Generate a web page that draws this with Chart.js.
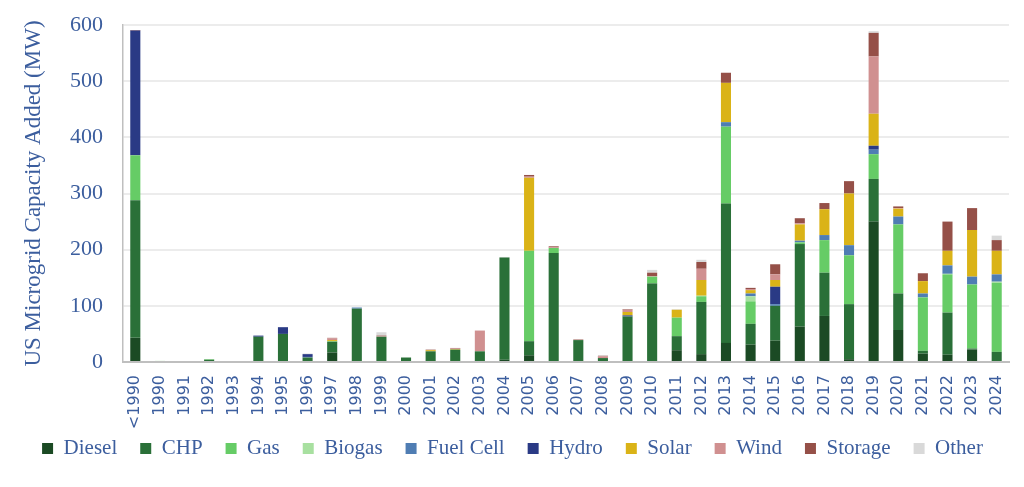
<!DOCTYPE html>
<html>
<head>
<meta charset="utf-8">
<script src="https://cdn.jsdelivr.net/npm/chart.js@4"></script>
<style>
    body { margin: 0; background: #fff; }
    #wrap { width: 1024px; height: 487px; }
</style>
</head>
<body>
<div id="wrap"><canvas id="microgridChart"></canvas></div>
<script>
// Data
const years = ['<1990', '1990', '1991', '1992', '1993', '1994', '1995', '1996', '1997', '1998',
    '1999', '2000', '2001', '2002', '2003', '2004', '2005', '2006', '2007', '2008',
    '2009', '2010', '2011', '2012', '2013', '2014', '2015', '2016', '2017', '2018',
    '2019', '2020', '2021', '2022', '2023', '2024'];

const diesel   = [43, 0, 0, 0, 0, 0, 0, 0, 17, 0, 0, 0, 0, 0, 0, 4, 12, 0, 0, 0, 0, 0, 21, 14, 34, 31, 38, 63, 82, 5, 250, 57, 15, 13, 22, 0];
const chp      = [245, 0, 0, 4, 0, 45, 50, 8, 19, 95, 45, 8, 19, 22, 19, 182, 25, 194, 39, 7, 81, 140, 25, 93, 248, 37, 62, 147, 77, 98, 76, 65, 5, 75, 2, 18];
const gas      = [80, 0, 0, 1, 0, 0, 0, 0, 1, 0, 0, 0, 0, 0, 0, 0, 161, 9, 0, 0, 0, 12, 33, 10, 137, 40, 0, 3, 58, 87, 44, 123, 95, 68, 114, 123];
const biogas   = [0, 2, 0, 0, 0, 0, 0, 0, 0, 0, 0, 0, 0, 0, 0, 0, 0, 0, 0, 0, 0, 0, 0, 1, 0, 9, 0, 0, 0, 0, 0, 0, 0, 1, 0, 2];
const fuelCell = [0, 0, 0, 0, 0, 0, 0, 1, 0, 2, 0, 0, 0, 0, 0, 0, 0, 0, 0, 0, 0, 0, 0, 0, 8, 5, 3, 3, 9, 18, 8, 14, 7, 15, 14, 13];
const hydro    = [222, 0, 0, 0, 0, 2, 12, 5, 0, 0, 0, 0, 0, 0, 0, 0, 0, 0, 0, 0, 2, 0, 0, 0, 0, 0, 31, 0, 0, 0, 7, 0, 0, 0, 0, 0];
const solar    = [0, 0, 0, 0, 0, 0, 0, 0, 2, 0, 0, 0, 2, 1, 0, 0, 130, 0, 0, 0, 6, 0, 14, 28, 70, 6, 12, 29, 46, 92, 57, 14, 22, 26, 83, 42];
const wind     = [0, 0, 0, 0, 0, 0, 0, 0, 3, 0, 1, 0, 0, 1, 37, 0, 2, 1, 0, 3, 4, 1, 0, 20, 0, 2, 10, 2, 0, 0, 102, 1, 0, 0, 0, 0];
const storage  = [1, 0, 0, 0, 0, 0, 0, 0, 1, 0, 1, 0, 1, 1, 0, 0, 3, 2, 1, 1, 1, 6, 0, 12, 18, 2, 18, 9, 11, 22, 42, 3, 14, 52, 39, 19];
const other    = [0, 0, 0, 0, 0, 0, 0, 1, 0, 0, 6, 0, 0, 0, 0, 1, 0, 0, 0, 1, 0, 5, 1, 4, 0, 0, 0, 0, 0, 0, 3, 0, 0, 0, 0, 8];

const yTicks = [0, 100, 200, 300, 400, 500, 600];

const textBlue = '#3c5e9e';
const serif = "'Liberation Serif', 'DejaVu Serif', serif";

function series(label, data, color) {
    return {
        label: label,
        data: data,
        backgroundColor: color,
        borderWidth: 0,
        barPercentage: 0.41,
        categoryPercentage: 1.0
    };
}

const ctx = document.getElementById('microgridChart').getContext('2d');
const microgridChart = new Chart(ctx, {
    type: 'bar',
    data: {
        labels: years,
        datasets: [
            series('Diesel', diesel, '#1b4a24'),
            series('CHP', chp, '#2a7038'),
            series('Gas', gas, '#66cc66'),
            series('Biogas', biogas, '#a8e0a0'),
            series('Fuel Cell', fuelCell, '#4f7db3'),
            series('Hydro', hydro, '#2a3a85'),
            series('Solar', solar, '#dab317'),
            series('Wind', wind, '#d09090'),
            series('Storage', storage, '#955048'),
            series('Other', other, '#d9d9d9')
        ]
    },
    options: {
        responsive: true,
        maintainAspectRatio: false,
        animation: false,
        layout: {
            padding: { left: 16, right: 15, top: 25, bottom: 18 }
        },
        plugins: {
            legend: {
                display: true,
                position: 'bottom',
                labels: {
                    color: textBlue,
                    boxWidth: 11,
                    boxHeight: 11,
                    padding: 23,
                    font: { family: serif, size: 21 }
                }
            },
            tooltip: { enabled: false }
        },
        scales: {
            x: {
                stacked: true,
                offset: true,
                grid: { display: false, drawTicks: false },
                border: { display: true, color: '#bfbfbf', width: 2 },
                ticks: {
                    color: textBlue,
                    minRotation: 90,
                    maxRotation: 90,
                    autoSkip: false,
                    padding: 13,
                    font: { family: "'DejaVu Sans', sans-serif", size: 16 }
                },
                afterFit: function (scale) {
                    scale.height = 53;
                    scale.paddingLeft = 0;
                    scale.paddingRight = 0;
                    // let the rotated labels run past the axis box, like the original
                    scale._computeLabelArea = () => null;
                }
            },
            y: {
                stacked: true,
                min: 0,
                max: 600,
                afterBuildTicks: function (scale) {
                    scale.ticks = yTicks.map(v => ({ value: v }));
                },
                grid: { color: '#ececec', lineWidth: 2, drawTicks: false },
                border: { display: true, color: '#bfbfbf', width: 1.5 },
                ticks: {
                    color: textBlue,
                    padding: 20,
                    font: { family: serif, size: 22 }
                },
                title: {
                    display: true,
                    text: 'US Microgrid Capacity Added (MW)',
                    color: textBlue,
                    font: { family: serif, size: 23 }
                },
                afterFit: function (scale) {
                    scale.width = 107;
                    scale.paddingTop = 0;
                    scale.paddingBottom = 0;
                }
            }
        }
    }
});
</script>
</body>
</html>
